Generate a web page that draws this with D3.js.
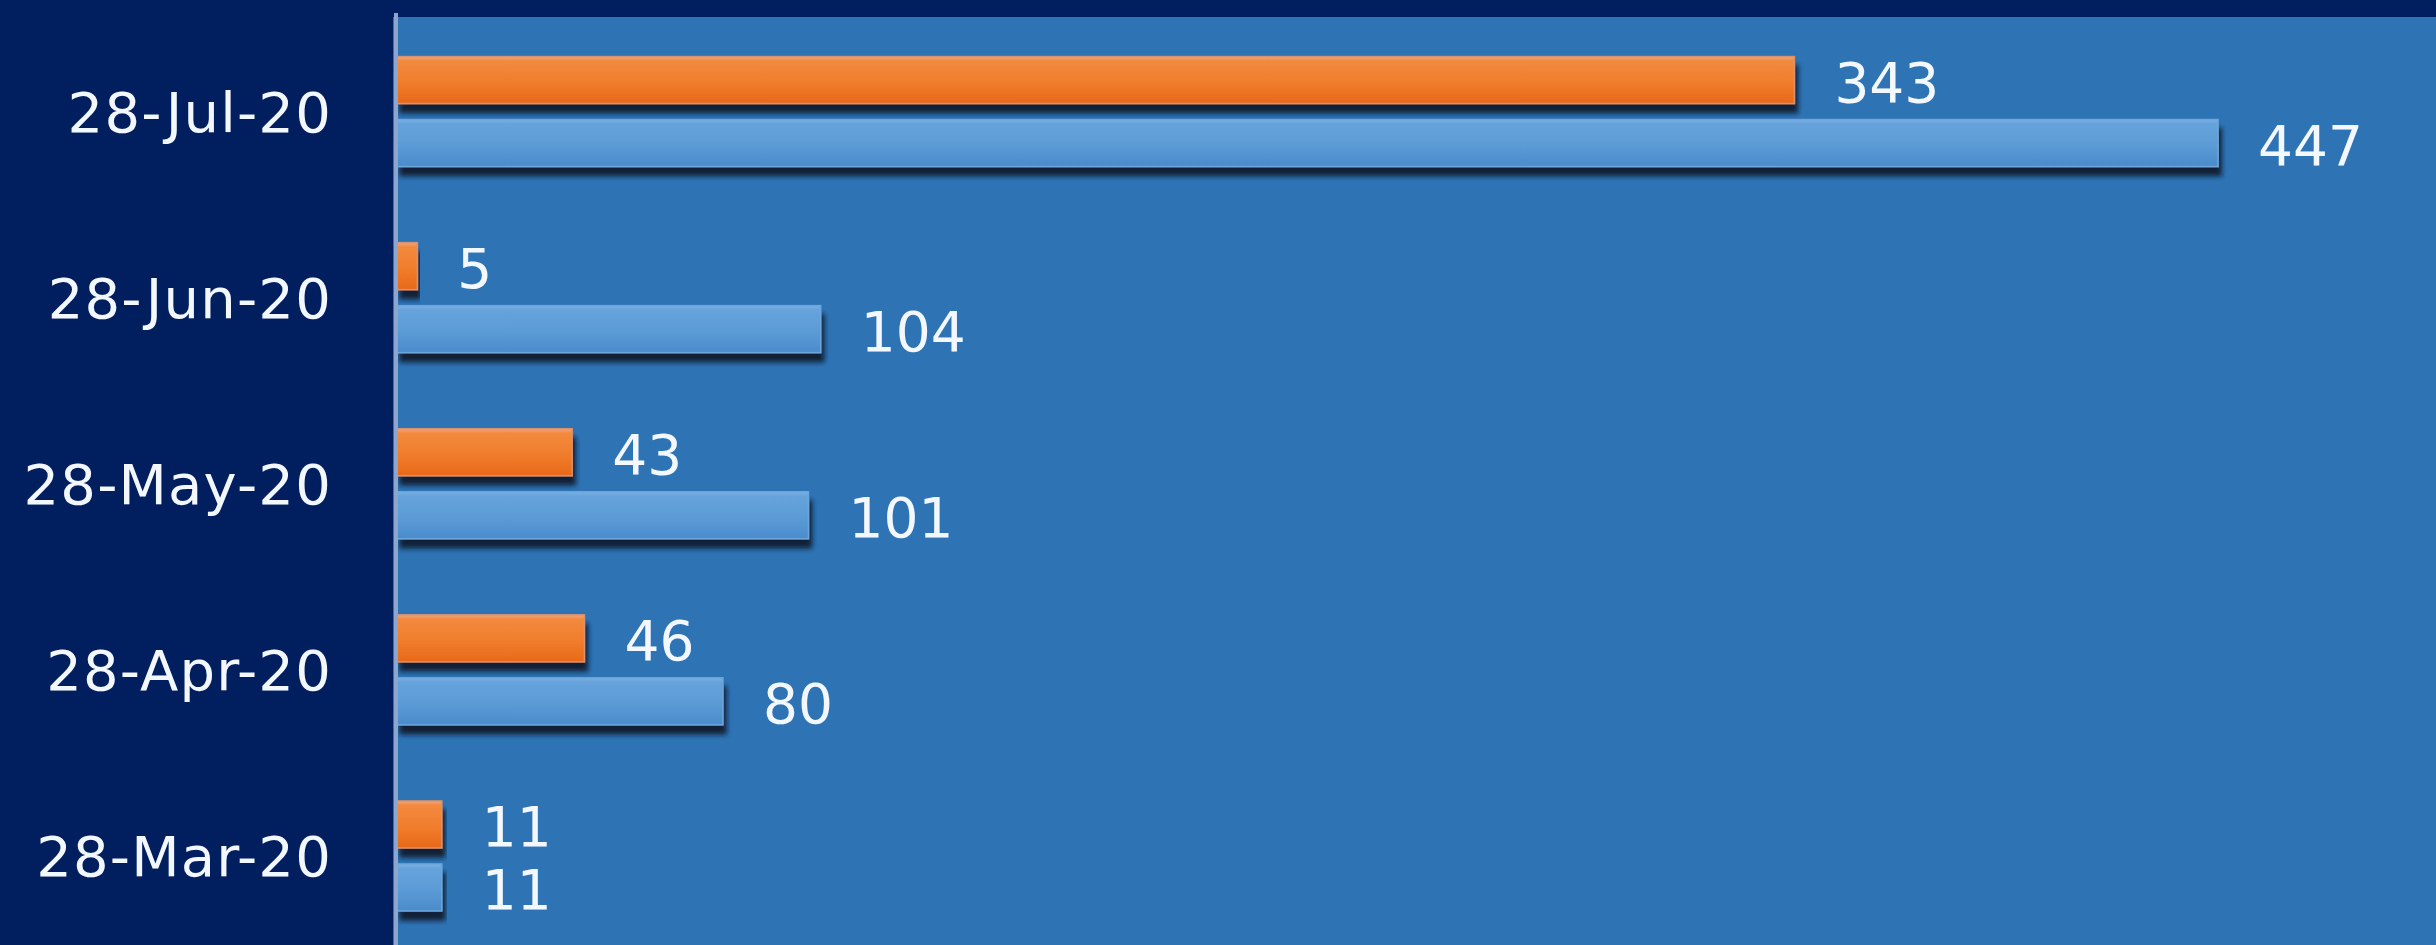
<!DOCTYPE html>
<html>
<head>
<meta charset="utf-8">
<script src="https://cdn.jsdelivr.net/npm/d3@7"></script>
<style>
  html, body { margin: 0; padding: 0; background: #011e5e; overflow: hidden; }
  svg { display: block; }
  text { font-family: "DejaVu Sans", Verdana, sans-serif; fill: #f3f7ff; }
</style>
</head>
<body>
<div id="chart"></div>
<script>
// Horizontal clustered bars, two series per date
const dates = ["28-Jul-20", "28-Jun-20", "28-May-20", "28-Apr-20", "28-Mar-20"];
const seriesOrange = [343, 5, 43, 46, 11];
const seriesBlue = [447, 104, 101, 80, 11];
const seriesKeys = ["orange", "blue"];

(function() {
  const width = 2436;
  const height = 945;
  const plot = { left: 393, top: 17, right: 2436, bottom: 949 };

  const svg = d3.select('#chart')
    .append('svg')
    .attr('width', width)
    .attr('height', height);

  const defs = svg.append('defs');

  const shadow = defs.append('filter')
    .attr('id', 'barShadow')
    .attr('x', '-5%').attr('y', '-30%')
    .attr('width', '115%').attr('height', '180%');
  shadow.append('feDropShadow')
    .attr('dx', 3).attr('dy', 9)
    .attr('stdDeviation', 2.5)
    .attr('flood-color', '#0b1628')
    .attr('flood-opacity', 0.9);

  const grads = {
    orange: [['0%', '#eea888'], ['9%', '#f28a3e'], ['55%', '#f07d2c'], ['100%', '#e8691a']],
    blue: [['0%', '#7cb0e2'], ['9%', '#66a3dc'], ['55%', '#5b9bd5'], ['100%', '#4b8bcc']]
  };
  Object.entries(grads).forEach(([key, stops]) => {
    const g = defs.append('linearGradient')
      .attr('id', 'grad-' + key)
      .attr('x1', 0).attr('y1', 0).attr('x2', 0).attr('y2', 1);
    stops.forEach(s => g.append('stop').attr('offset', s[0]).attr('stop-color', s[1]));
  });
  const strokes = { orange: '#d9926e', blue: '#6da6db' };

  // plot area background
  svg.append('rect')
    .attr('x', plot.left)
    .attr('y', plot.top)
    .attr('width', plot.right - plot.left)
    .attr('height', height - plot.top)
    .attr('fill', '#2e74b5');

  const xScale = d3.scaleLinear()
    .domain([0, 500])
    .range([397, 2434]);

  const yScale = d3.scaleBand()
    .domain(dates)
    .range([plot.top + 1.5, plot.bottom])
    .padding(0);

  const ySub = d3.scaleBand()
    .domain(seriesKeys)
    .range([0, yScale.bandwidth()])
    .paddingInner(0.254)
    .paddingOuter(0.604);

  const rows = dates.map((d, i) => ({
    date: d,
    values: { orange: seriesOrange[i], blue: seriesBlue[i] }
  }));

  const groups = svg.selectAll('.group')
    .data(rows)
    .enter().append('g')
    .attr('class', 'group')
    .attr('transform', d => `translate(0,${yScale(d.date)})`);

  seriesKeys.forEach(key => {
    groups.append('rect')
      .attr('x', xScale(0))
      .attr('y', ySub(key))
      .attr('width', d => xScale(d.values[key]) - xScale(0))
      .attr('height', ySub.bandwidth())
      .attr('fill', `url(#grad-${key})`)
      .attr('stroke', strokes[key])
      .attr('stroke-width', 1.5)
      .attr('filter', 'url(#barShadow)');

    groups.append('text')
      .attr('x', d => xScale(d.values[key]) + 40)
      .attr('y', ySub(key) + ySub.bandwidth() / 2 + 2)
      .attr('dy', '0.36em')
      .style('font-size', '55px')
      .text(d => d.values[key]);
  });

  // category axis
  const yAxis = d3.axisLeft(yScale).tickSize(0).tickPadding(64);
  const axisG = svg.append('g')
    .attr('transform', 'translate(396,0)')
    .call(yAxis);
  axisG.select('.domain')
    .attr('stroke', '#8ca6d0')
    .attr('stroke-width', 4)
    .attr('d', `M0,${plot.top - 4}V${height}`);
  axisG.selectAll('.tick text')
    .style('font-size', '56px')
    .style('letter-spacing', '1.2px')
    .attr('font-family', null)
    .attr('fill', '#f3f7ff')
    .attr('dy', '0.36em');
})();
</script>
</body>
</html>
